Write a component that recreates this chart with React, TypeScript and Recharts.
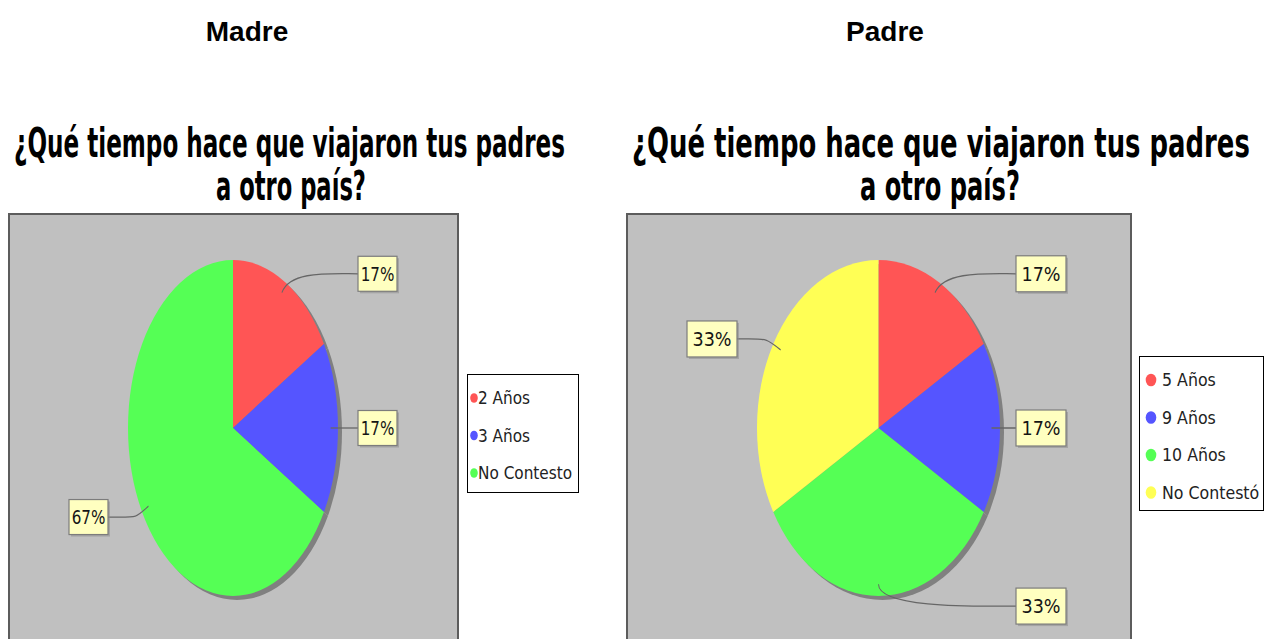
import React, { useLayoutEffect, useRef, useState } from 'react';
import { PieChart, Pie, Cell, Legend } from 'recharts';

// ---------- data ----------
const headers = ['Madre', 'Padre'];
const titleLines = ['¿Qué tiempo hace que viajaron tus padres', 'a otro país?'];

const madreCategories = ['2 Años', '3 Años', 'No Contesto'];
const madreValues = [1, 1, 4];
const madreColors = ['#FF5555', '#5555FF', '#55FF55'];

const padreCategories = ['5 Años', '9 Años', '10 Años', 'No Contestó'];
const padreValues = [1, 1, 2, 2];
const padreColors = ['#FF5555', '#5555FF', '#55FF55', '#FFFF55'];

const madreData = madreCategories.map((name, i) => ({ name, value: madreValues[i] }));
const padreData = padreCategories.map((name, i) => ({ name, value: padreValues[i] }));

// ---------- layout ----------
type Cfg = {
  cls: string;
  left: number; top: number; width: number; height: number;
  cx: number; cy: number; R: number; sx: number;
  gapR: number; gapL: number; labelK: number;
  boxW: number; boxH: number; textK: number;
  legend: { x: number; y: number; w: number; h: number; mx: number; rx: number; ry: number; tx: number; first: number; step: number; k: number };
  plot: { x: number; w: number };
  header: { x: number };
  title: { x1: number; w1: number; x2: number; w2: number };
};

const madreCfg: Cfg = {
  cls: 'pie-madre', left: 0, top: 213, width: 620, height: 426,
  cx: 233, cy: 215, R: 168, sx: 105 / 168,
  gapR: 20, gapL: 20, labelK: 1.06,
  boxW: 39, boxH: 35, textK: 0.76,
  legend: { x: 467, y: 161, w: 112, h: 119, mx: 7, rx: 3.8, ry: 4.8, tx: 11, first: 24, step: 37.5, k: 0.9 },
  plot: { x: 8, w: 451 },
  header: { x: 247 },
  title: { x1: 14, w1: 551, x2: 216, w2: 150 },
};

const padreCfg: Cfg = {
  cls: 'pie-padre', left: 600, top: 213, width: 666, height: 426,
  cx: 278.5, cy: 215, R: 168, sx: 121.5 / 168,
  gapR: 16, gapL: 20, labelK: 1.06,
  boxW: 50, boxH: 36, textK: 0.88,
  legend: { x: 539, y: 143, w: 125, h: 155, mx: 12, rx: 5.3, ry: 6.3, tx: 23, first: 24, step: 37.5, k: 0.93 },
  plot: { x: 626, w: 506 },
  header: { x: 885 },
  title: { x1: 632, w1: 618, x2: 860, w2: 160 },
};

// title line squeezed horizontally to a target width (measured at runtime)
const FitText = ({ x, y, width, text }: { x: number; y: number; width: number; text: string }) => {
  const ref = useRef<SVGTextElement>(null);
  const [k, setK] = useState(0.8);
  useLayoutEffect(() => {
    if (ref.current) {
      const natural = ref.current.getComputedTextLength();
      if (natural > 0) setK(width / natural);
    }
  }, [width, text]);
  return (
    <g transform={`translate(${x},${y}) scale(${k},1)`}>
      <text ref={ref} x={0} y={0} fontSize={40} fontWeight="bold" fontFamily="DejaVu Sans, sans-serif" fill="#000">
        {text}
      </text>
    </g>
  );
};

const makeLabel = (cfg: Cfg) => (props: any) => {
  const { cx, cy, midAngle, outerRadius, percent } = props;
  const R = outerRadius;
  const rad = (-midAngle * Math.PI) / 180;
  const cos = Math.cos(rad);
  const sin = Math.sin(rad);
  const right = cos >= -1e-6;
  const sx = cfg.sx;
  const x0 = cx + 0.93 * R * cos;
  const y0 = cy + 0.93 * R * sin;
  const x1 = cx + 1.08 * R * cos;
  const y1 = cy + 1.08 * R * sin;
  const ly = cy + cfg.labelK * R * sin;
  const dir = right ? 1 : -1;
  const ax = cx + dir * R + (dir * (right ? cfg.gapR : cfg.gapL)) / sx;
  const path = `M${x0},${y0} C${x1},${y1} ${ax - (dir * 30) / sx},${ly} ${ax},${ly}`;
  const w = cfg.boxW;
  const h = cfg.boxH;
  const bx = right ? 0 : -w;
  const txt = `${Math.round(percent * 100)}%`;
  return (
    <g>
      <path d={path} stroke="#666666" strokeWidth={1.3} fill="none" vectorEffect="non-scaling-stroke" />
      <g transform={`translate(${ax},${ly}) scale(${1 / sx},1)`}>
        <rect x={bx + 2} y={-h / 2 + 2} width={w} height={h} fill="#8c8c8c" opacity={0.55} />
        <rect x={bx} y={-h / 2} width={w} height={h} fill="#FFFFC0" stroke="#7c7c7c" strokeWidth={1.2} />
        <g transform={`translate(${bx + w / 2},0) scale(${cfg.textK},1)`}>
          <text x={0} y={0} dy="0.36em" textAnchor="middle" fontSize={20} fontFamily="DejaVu Sans, sans-serif" fill="#151515">
            {txt}
          </text>
        </g>
      </g>
    </g>
  );
};

const makeLegend = (cfg: Cfg, names: string[], colors: string[]) => () => {
  const L = cfg.legend;
  return (
    <svg width={L.w} height={L.h} style={{ display: 'block' }}>
      <rect x={0.5} y={0.5} width={L.w - 1} height={L.h - 1} fill="#ffffff" stroke="#000000" strokeWidth={1} />
      {names.map((n, i) => {
        const y = L.first + i * L.step;
        return (
          <g key={n}>
            <ellipse cx={L.mx} cy={y} rx={L.rx} ry={L.ry} fill={colors[i]} />
            <g transform={`translate(${L.tx},${y}) scale(${L.k},1)`}>
              <text x={0} y={0} dy="0.36em" fontSize={17} fontFamily="DejaVu Sans, sans-serif" fill="#222">
                {n}
              </text>
            </g>
          </g>
        );
      })}
    </svg>
  );
};

const Panel = ({ cfg, data, names, colors }: { cfg: Cfg; data: any[]; names: string[]; colors: string[] }) => (
  <div className={cfg.cls} style={{ position: 'absolute', left: cfg.left, top: cfg.top, width: cfg.width, height: cfg.height }}>
    <PieChart width={cfg.width} height={cfg.height} margin={{ top: 0, right: 0, bottom: 0, left: 0 }}>
      <Pie
        data={data}
        dataKey="value"
        nameKey="name"
        cx={cfg.cx + 4 / cfg.sx}
        cy={cfg.cy + 4}
        outerRadius={cfg.R}
        startAngle={90}
        endAngle={-270}
        fill="#808080"
        stroke="none"
        legendType="none"
        isAnimationActive={false}
      />
      <Pie
        data={data}
        dataKey="value"
        nameKey="name"
        cx={cfg.cx}
        cy={cfg.cy}
        outerRadius={cfg.R}
        startAngle={90}
        endAngle={-270}
        stroke="none"
        label={makeLabel(cfg)}
        labelLine={false}
        isAnimationActive={false}
      >
        {data.map((d, i) => (
          <Cell key={d.name} fill={colors[i]} />
        ))}
      </Pie>
      <Legend
        content={makeLegend(cfg, names, colors)}
        wrapperStyle={{ position: 'absolute', left: cfg.legend.x, top: cfg.legend.y, width: cfg.legend.w, height: cfg.legend.h, bottom: 'auto', right: 'auto' }}
      />
    </PieChart>
  </div>
);

const css = `
.pie-madre svg.recharts-surface, .pie-padre svg.recharts-surface { overflow: visible !important; }
.pie-madre svg.recharts-surface { transform: scaleX(${madreCfg.sx}); transform-origin: ${madreCfg.cx}px ${madreCfg.cy}px; }
.pie-padre svg.recharts-surface { transform: scaleX(${padreCfg.sx}); transform-origin: ${padreCfg.cx}px ${padreCfg.cy}px; }
`;

export default function App() {
  const cfgs = [madreCfg, padreCfg];
  return (
    <div style={{ position: 'absolute', left: 0, top: 0, width: 1266, height: 639, background: '#fff', overflow: 'hidden' }}>
      <style>{css}</style>
      {cfgs.map((c) => (
        <div
          key={c.cls + 'plot'}
          style={{
            position: 'absolute', left: c.plot.x, top: 213, width: c.plot.w, height: 440,
            background: '#C0C0C0', border: '2px solid #5c5c5c', boxSizing: 'border-box',
          }}
        />
      ))}
      <svg width={1266} height={639} style={{ position: 'absolute', left: 0, top: 0 }}>
        {cfgs.map((c, i) => (
          <g key={'t' + i}>
            <text x={c.header.x} y={41} textAnchor="middle" fontSize={28} fontWeight="bold" fontFamily="Liberation Sans, Arial, sans-serif" fill="#000">
              {headers[i]}
            </text>
            <FitText x={c.title.x1} y={157} width={c.title.w1} text={titleLines[0]} />
            <FitText x={c.title.x2} y={200} width={c.title.w2} text={titleLines[1]} />
          </g>
        ))}
      </svg>
      <Panel cfg={madreCfg} data={madreData} names={madreCategories} colors={madreColors} />
      <Panel cfg={padreCfg} data={padreData} names={padreCategories} colors={padreColors} />
    </div>
  );
}
